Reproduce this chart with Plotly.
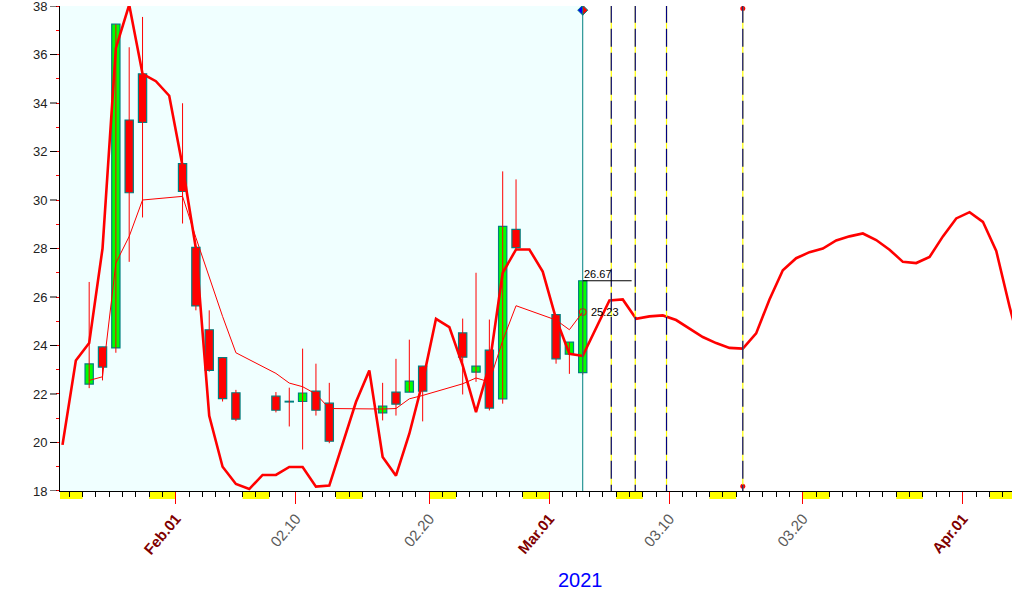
import pandas as pd
import plotly.graph_objects as go

# ---------------- data ----------------
candle_dates = ["2021-01-25", "2021-01-26", "2021-01-27", "2021-01-28", "2021-01-29",
                "2021-02-01", "2021-02-02", "2021-02-03", "2021-02-04", "2021-02-05",
                "2021-02-08", "2021-02-09", "2021-02-10", "2021-02-11", "2021-02-12",
                "2021-02-16", "2021-02-17", "2021-02-18", "2021-02-19",
                "2021-02-22", "2021-02-23", "2021-02-24", "2021-02-25", "2021-02-26",
                "2021-03-01", "2021-03-02", "2021-03-03"]
opens = [22.41, 23.94, 23.90, 33.30, 35.20,
         31.50, 28.05, 24.65, 23.50, 22.05,
         21.91, 21.67, 21.69, 22.12, 21.62,
         21.22, 22.08, 22.08, 23.15,
         24.52, 22.90, 23.81, 21.80, 28.79,
         25.27, 23.64, 22.88]
highs = [26.62, 23.94, 37.25, 36.30, 37.55,
         33.99, 28.10, 25.45, 23.50, 22.17,
         22.08, 22.26, 23.87, 23.25, 22.46,
         22.46, 23.45, 24.24, 23.15,
         25.11, 27.00, 25.07, 31.18, 30.85,
         25.27, 24.14, 26.67]
lows = [22.24, 22.56, 23.70, 27.45, 29.28,
        29.03, 25.45, 22.92, 21.69, 20.88,
        21.24, 20.66, 19.71, 21.11, 19.97,
        20.91, 21.11, 22.08, 20.87,
        21.98, 22.50, 21.32, 21.60, 27.90,
        23.25, 22.83, 22.80]
closes = [23.24, 23.11, 37.25, 30.30, 33.20,
          30.35, 25.63, 22.97, 21.81, 20.96,
          21.33, 21.67, 22.04, 21.33, 20.05,
          21.50, 21.58, 22.53, 22.12,
          23.52, 23.15, 21.42, 28.91, 28.04,
          23.45, 24.14, 26.67]
moving_avg = [22.56, 22.71, 27.40, 28.50, 30.00,
              30.15, 28.45, 26.80, 25.20, 23.70,
              22.85, 22.45, 22.30, 22.00, 21.40,
              21.38, 21.40, 21.80, 21.94,
              22.42, 22.66, 22.50, 24.20, 25.64,
              25.05, 24.65, 25.38]

cycle_start = "2021-01-23 12:00"
cycle_values = [19.90, 23.38, 24.10, 28.00, 36.26, 38.05, 35.20, 34.90, 34.30,   # Jan 23-31
                31.40, 28.00, 21.10, 19.00, 18.29, 18.08, 18.66, 18.66, 18.99, 18.99,  # Feb 1-10
                18.18, 18.22, 19.94, 21.67, 22.97, 19.40, 18.63, 20.36, 22.50, 25.10,  # Feb 11-20
                24.76, 23.18, 21.25, 23.18, 27.00, 27.96, 27.96, 27.05,                # Feb 21-28
                25.10, 23.66, 23.57, 24.70, 25.86, 25.90, 25.10, 25.20, 25.24, 25.05,  # Mar 1-10
                24.70, 24.35, 24.10, 23.90, 23.87, 24.50, 25.90, 27.10, 27.60, 27.85,  # Mar 11-20
                28.00, 28.33, 28.50, 28.62, 28.35, 27.95, 27.45, 27.40, 27.65, 28.50,  # Mar 21-30
                29.24, 29.50, 29.10, 27.90, 25.60, 23.50]                              # Mar 31-Apr 5

last_close_label = "26.67"
last_avg_label = "25.23"

x_tick_dates = ["2021-02-01", "2021-02-10", "2021-02-20", "2021-03-01",
                "2021-03-10", "2021-03-20", "2021-04-01"]
x_tick_labels = ["Feb.01", "02.10", "02.20", "Mar.01", "03.10", "03.20", "Apr.01"]
month_start_labels = ["Feb.01", "Mar.01", "Apr.01"]
y_ticks = list(range(18, 39))
year_label = "2021"

marker_dates = ["2021-03-05 15:20", "2021-03-07 10:30", "2021-03-09 18:45", "2021-03-15 12:00"]

x_range = ["2021-01-23 07:30", "2021-04-04 16:20"]
y_range = [17.999, 38.001]

# ---------------- figure ----------------
DAY_MS = 86400000
cx = [pd.Timestamp(d) + pd.Timedelta(hours=12) for d in candle_dates]
cycle_x = pd.date_range(cycle_start, periods=len(cycle_values), freq="D")
last_x = cx[-1]

fig = go.Figure()

# wicks
wx, wy = [], []
for x, lo, hi in zip(cx, lows, highs):
    wx += [x, x, None]
    wy += [lo, hi, None]
fig.add_trace(go.Scatter(x=wx, y=wy, mode="lines", line=dict(color="#FF0000", width=1),
                         hoverinfo="skip"))

# bodies
base = [min(o, c) for o, c in zip(opens, closes)]
height = [max(abs(c - o), 0.03) for o, c in zip(opens, closes)]
colors = ["#00FF00" if c > o else "#FF0000" for o, c in zip(opens, closes)]
fig.add_trace(go.Bar(x=cx, y=height, base=base, width=0.62 * DAY_MS,
                     marker=dict(color=colors, line=dict(color="#008080", width=1.2))))

# moving average
fig.add_trace(go.Scatter(x=cx, y=moving_avg, mode="lines",
                         line=dict(color="#FF0000", width=1)))
# cycle line
fig.add_trace(go.Scatter(x=cycle_x, y=cycle_values, mode="lines",
                         line=dict(color="#FF0000", width=2.6)))
# open circle at last average
fig.add_trace(go.Scatter(x=[last_x], y=[moving_avg[-1]], mode="markers",
                         marker=dict(symbol="circle-open", size=7, color="#FF0000",
                                     line=dict(width=1))))
# red dots on the last marker line
fig.add_trace(go.Scatter(x=[marker_dates[-1], marker_dates[-1]], y=[37.9, 18.2],
                         mode="markers", cliponaxis=False,
                         marker=dict(size=5, color="#FF0000")))

shapes = []
# light cyan history background
shapes.append(dict(type="rect", xref="x", yref="paper", x0=x_range[0], x1=last_x,
                   y0=0, y1=1, fillcolor="#F0FFFF", line=dict(width=0), layer="below"))
# weekend bands below the axis
for d in pd.date_range("2021-01-23", "2021-04-05", freq="D"):
    if d.dayofweek == 5:
        shapes.append(dict(type="rect", xref="x", yref="paper", x0=d,
                           x1=d + pd.Timedelta(days=2), y0=-0.0165, y1=-0.001,
                           fillcolor="#FFFF00", line=dict(width=0), layer="below"))
# teal line at last candle
shapes.append(dict(type="line", xref="x", yref="y", x0=last_x, x1=last_x, y0=38, y1=18,
                   line=dict(color="#008080", width=1)))
# dashed marker lines (navy with yellow gaps)
for d in marker_dates:
    shapes.append(dict(type="line", xref="x", yref="y", x0=d, x1=d, y0=38.05, y1=18,
                       line=dict(color="#FFFF00", width=1.2)))
    shapes.append(dict(type="line", xref="x", yref="y", x0=d, x1=d, y0=38.05, y1=18,
                       line=dict(color="#000080", width=1.2, dash="18px,6px")))
# horizontal mark at last close
shapes.append(dict(type="line", xref="x", yref="y", x0=last_x,
                   x1=last_x + pd.Timedelta(hours=88), y0=closes[-1], y1=closes[-1],
                   line=dict(color="#000000", width=1)))
# diamond at top of teal line
shapes.append(dict(type="path", xref="x", yref="y", xsizemode="pixel", ysizemode="pixel",
                   xanchor=last_x, yanchor=37.83, path="M -5 0 L 0 5 L 0 -5 Z",
                   fillcolor="#0000FF", line=dict(color="#008080", width=1)))
shapes.append(dict(type="path", xref="x", yref="y", xsizemode="pixel", ysizemode="pixel",
                   xanchor=last_x, yanchor=37.83, path="M 5 0 L 0 5 L 0 -5 Z",
                   fillcolor="#FF0000", line=dict(color="#008080", width=1)))
# black portion of the major y ticks
for v in y_ticks:
    if v % 2 == 0:
        shapes.append(dict(type="line", xref="paper", yref="y", xsizemode="pixel",
                           xanchor=0, x0=-10, x1=-3, y0=v, y1=v,
                           line=dict(color="#000000", width=1)))

annotations = [
    dict(x=last_x, y=closes[-1], xref="x", yref="y", text=last_close_label,
         showarrow=False, xanchor="left", yanchor="bottom", xshift=-1, yshift=-1,
         font=dict(family="Liberation Sans", size=11, color="#000000")),
    dict(x=last_x, y=moving_avg[-1], xref="x", yref="y", text=last_avg_label,
         showarrow=False, xanchor="left", yanchor="middle", xshift=6,
         font=dict(family="Liberation Sans", size=11, color="#000000")),
    dict(x=0.5468, y=-0.1825, xref="paper", yref="paper", text=year_label,
         showarrow=False, xanchor="center", yanchor="middle",
         font=dict(family="Liberation Sans", size=20, color="#0000FF")),
]

tick_text = []
for t in x_tick_labels:
    if t in month_start_labels:
        tick_text.append(f'<b><span style="color:#800000">{t}</span></b>')
    else:
        tick_text.append(t)

fig.update_layout(
    width=1012, height=591,
    margin=dict(l=60, r=0, t=6, b=100),
    paper_bgcolor="#FFFFFF", plot_bgcolor="#FFFFFF",
    showlegend=False, barmode="overlay",
    font=dict(family="Liberation Sans"),
    shapes=shapes, annotations=annotations,
    xaxis=dict(type="date", range=x_range, showgrid=False, zeroline=False,
               showline=True, linecolor="#000000", linewidth=1,
               tickmode="array", tickvals=x_tick_dates, ticktext=tick_text,
               ticks="outside", ticklen=12, tickcolor="#FF0000", tickwidth=1,
               tickangle=-50, tickfont=dict(family="Liberation Sans", size=15, color="#5A5A5A"),
               minor=dict(ticks="outside", dtick=DAY_MS, tick0="2021-01-23",
                          ticklen=5, tickcolor="#000000", tickwidth=1, showgrid=False)),
    yaxis=dict(range=y_range, showgrid=False, zeroline=False,
               showline=True, linecolor="#000000", linewidth=1,
               tickmode="array", tickvals=y_ticks,
               ticktext=[str(v) if v % 2 == 0 else "" for v in y_ticks],
               ticks="outside", ticklen=3, tickcolor="#FF0000", tickwidth=1,
               ticklabelstandoff=6, ticklabeloverflow="allow",
               tickfont=dict(family="Liberation Sans", size=13, color="#222222")),
)

fig.write_html("out.html", config={"displayModeBar": False},
               post_script="document.body.style.margin='0';")
